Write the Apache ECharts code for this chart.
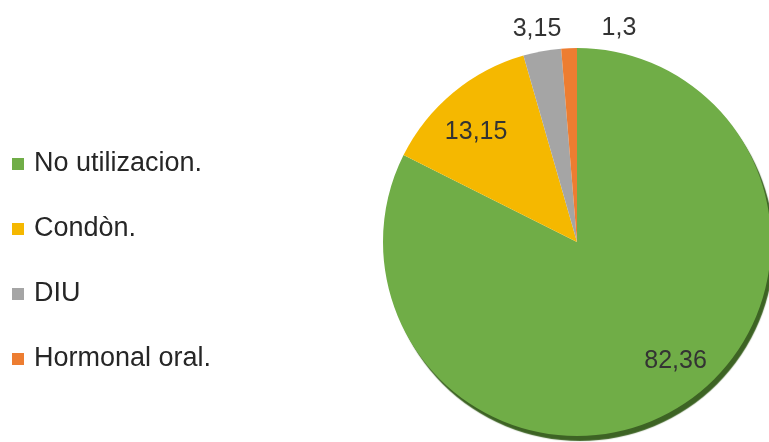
<!DOCTYPE html>
<html>
<head>
<meta charset="utf-8">
<script src="https://cdn.jsdelivr.net/npm/echarts@6/dist/echarts.min.js"></script>
<style>
  html, body { margin: 0; padding: 0; background: #fff; }
  #main { width: 769px; height: 442px; }
</style>
</head>
<body>
<div id="main"></div>
<script>
// metodo anticonceptivo, porcentajes
var categorias = ['No utilizacion.', 'Condòn.', 'DIU', 'Hormonal oral.'];
var valores = [82.36, 13.15, 3.15, 1.3];
var etiquetas = ['82,36', '13,15', '3,15', '1,3'];
var colores = ['#70AD47', '#F5B800', '#A5A5A5', '#ED7D31'];
// desplazamiento de cada etiqueta respecto a su posicion interior
var desplaza = [[46, 34], [-37, -33], [-22, -115], [46, -114]];

var chart = echarts.init(document.getElementById('main'));

var datos = categorias.map(function (c, i) {
    var d = {
        name: c,
        value: valores[i],
        itemStyle: { color: colores[i] },
        label: { offset: desplaza[i] }
    };
    if (i === 0) {
        d.itemStyle.shadowColor = '#3d6324';
        d.itemStyle.shadowOffsetX = 3;
        d.itemStyle.shadowOffsetY = 5;
        d.itemStyle.shadowBlur = 1;
    }
    return d;
});

var option = {
    animation: false,
    legend: {
        orient: 'vertical',
        left: 7,
        top: 144,
        icon: 'rect',
        itemWidth: 12,
        itemHeight: 12,
        itemGap: 35,
        data: categorias,
        textStyle: {
            fontFamily: 'Liberation Sans, Arial, sans-serif',
            fontSize: 27,
            lineHeight: 30,
            color: '#262626',
            padding: [0, 0, 0, 5]
        }
    },
    series: [{
        type: 'pie',
        center: [577, 242],
        radius: 194,
        startAngle: 90,
        clockwise: true,
        avoidLabelOverlap: false,
        data: datos,
        label: {
            position: 'inside',
            fontFamily: 'Liberation Sans, Arial, sans-serif',
            fontSize: 25,
            color: '#333333',
            formatter: function (p) { return etiquetas[p.dataIndex]; }
        },
        labelLine: { show: false },
        emphasis: { disabled: true }
    }]
};

chart.setOption(option);
</script>
</body>
</html>
